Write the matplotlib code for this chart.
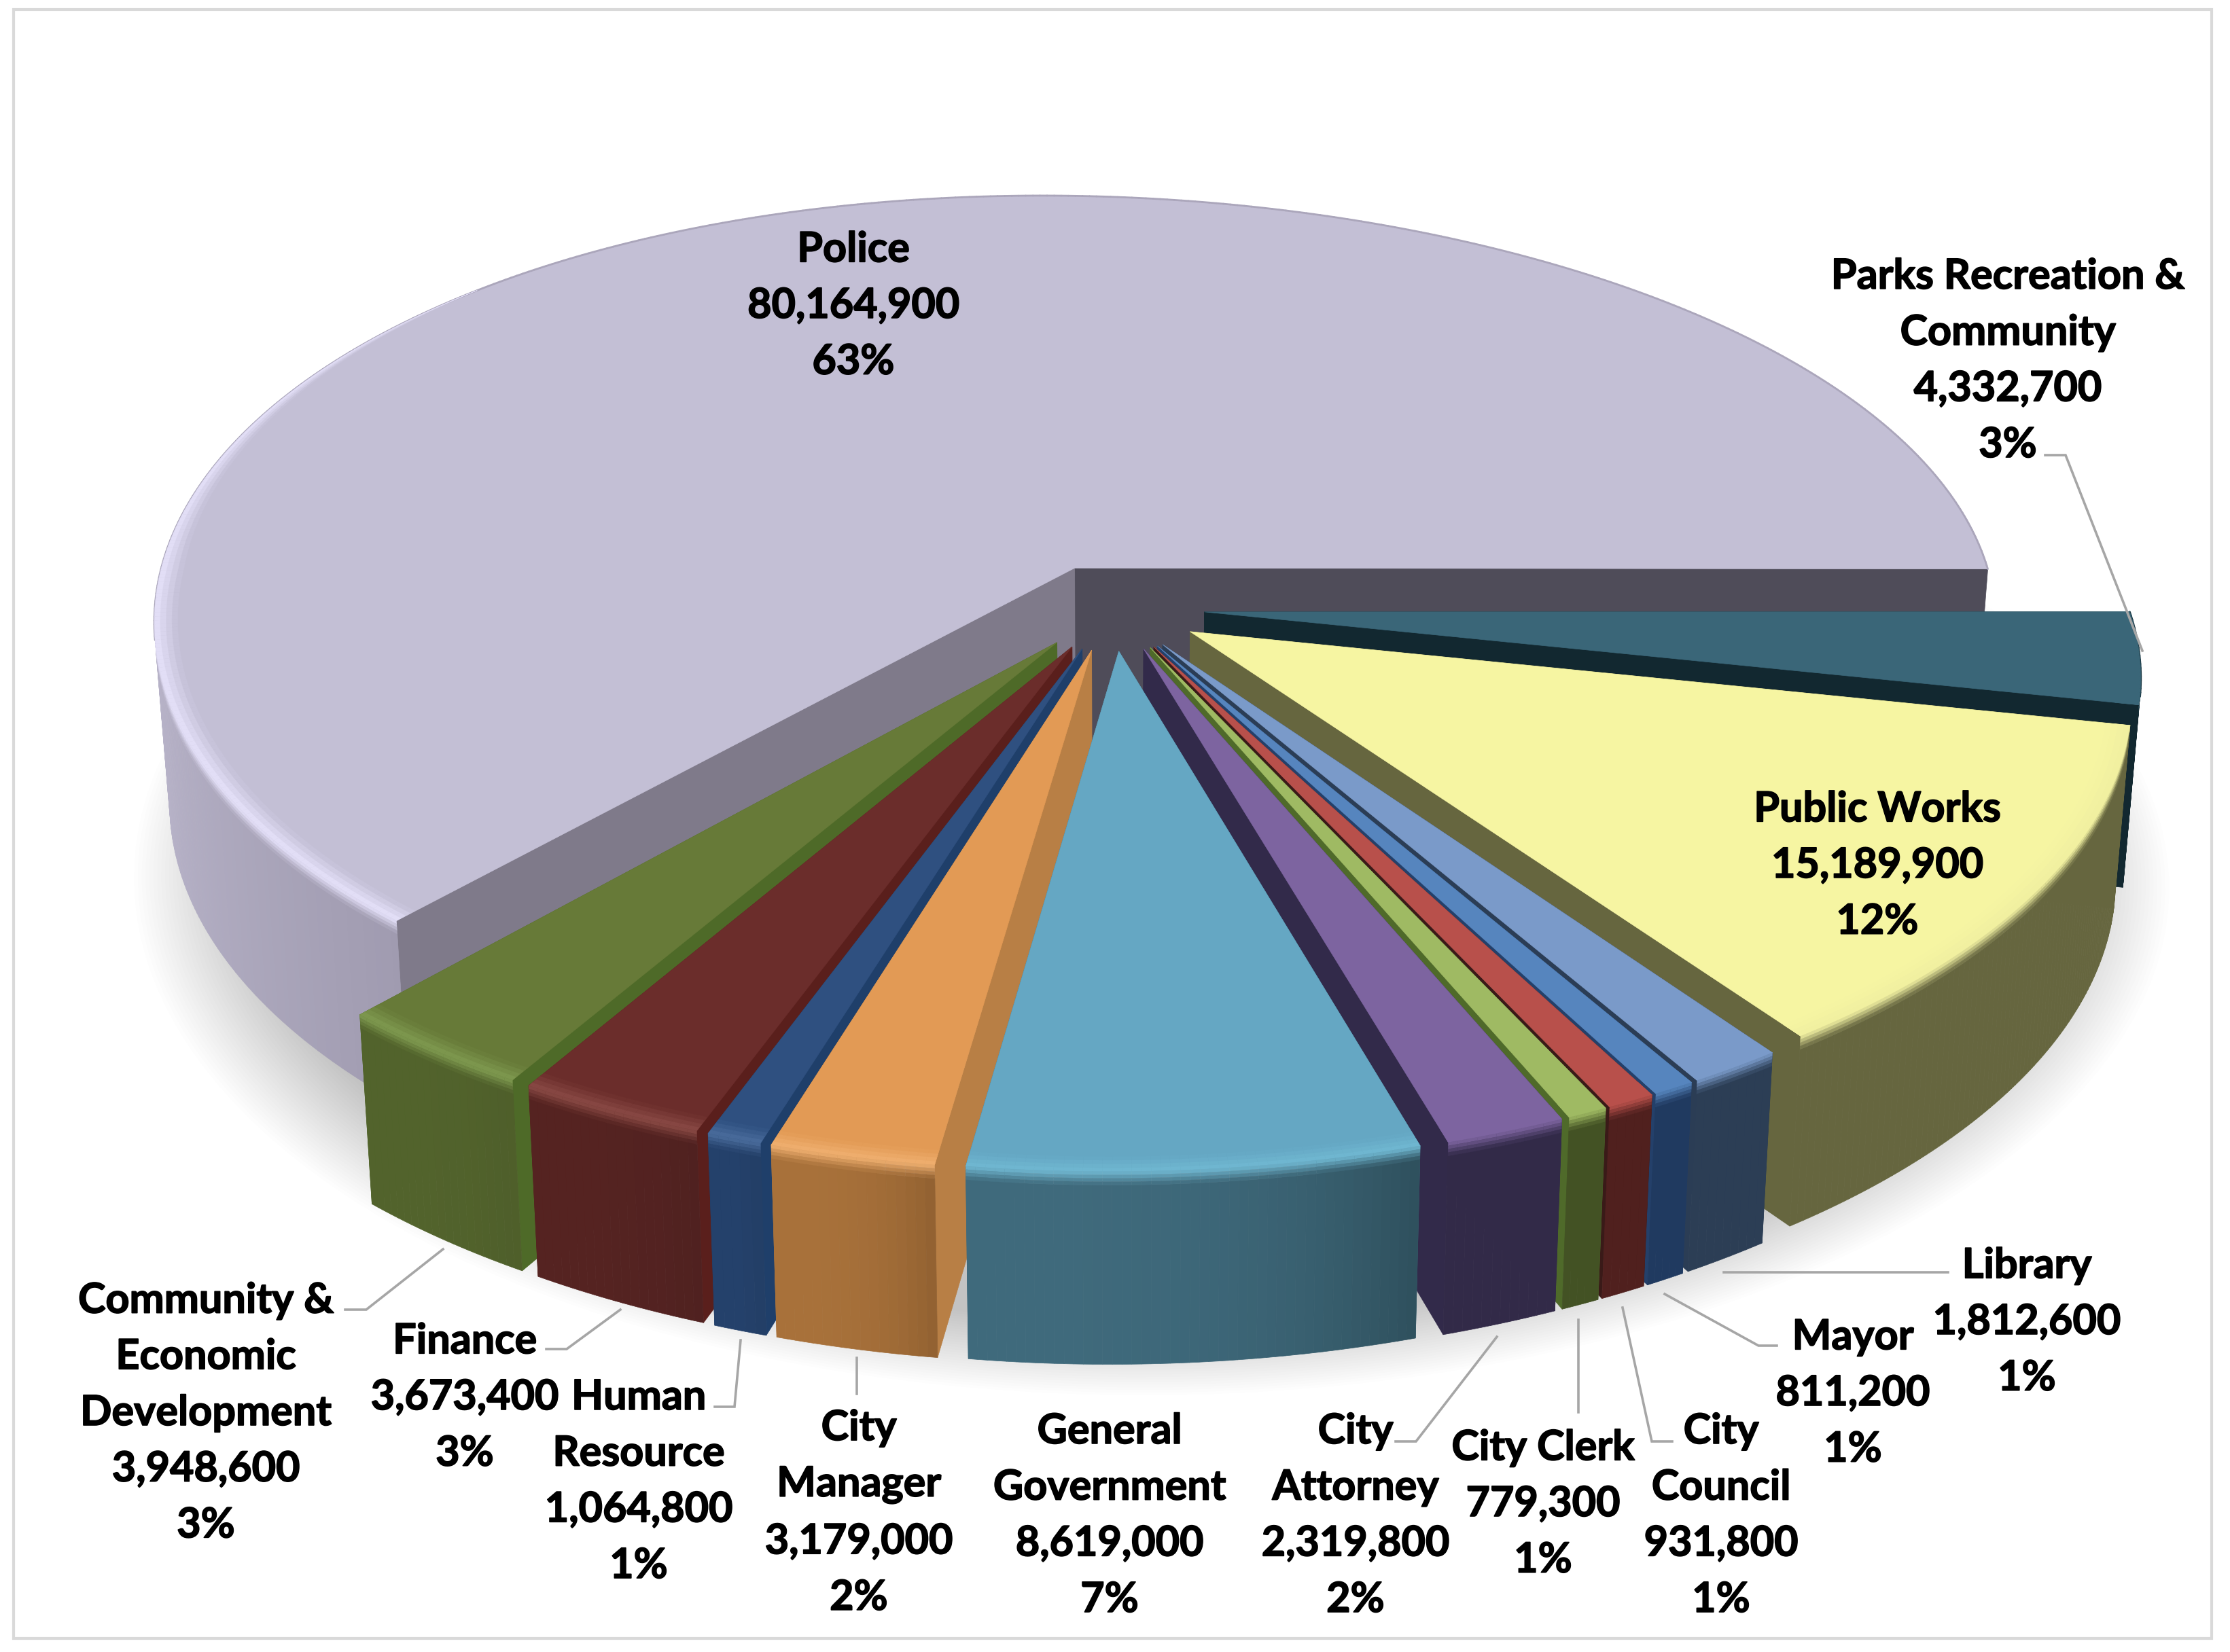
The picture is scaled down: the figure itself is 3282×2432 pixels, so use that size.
import numpy as np
import matplotlib
matplotlib.use("Agg")
import matplotlib.pyplot as plt
import matplotlib.patheffects as pe
from matplotlib.collections import PolyCollection
from matplotlib.colors import to_rgb
from matplotlib.patches import Polygon

# === DATA ===
names = ["Police", "Community &\nEconomic\nDevelopment", "Finance", "Human\nResource",
         "City\nManager", "General\nGovernment", "City\nAttorney", "City Clerk",
         "City\nCouncil", "Mayor", "Library", "Public Works", "Parks Recreation &\nCommunity"]
values = [80164900, 3948600, 3673400, 1064800, 3179000, 8619000, 2319800,
          779300, 931800, 811200, 1812600, 15189900, 4332700]
percents = [63, 3, 3, 1, 2, 7, 2, 1, 1, 1, 1, 12, 3]

# === COLOURS ===
top_colors = ["#C3BFD5", "#677A38", "#6B2D2B", "#2F5080", "#E29A55", "#65A7C3", "#7D64A0",
              "#9FBA63", "#B8504B", "#5685BE", "#7A9AC9", "#F6F5A2", "#3A6678"]
hi_colors = ["#E6E2FB", "#7F9A50", "#8A4A45", "#4A6C9C", "#F0B070", "#70B8D2", "#7D64A0",
             "#9FBA63", "#B8504B", "#5685BE", "#7A9AC9", "#F0EFA0", "#3A6678"]
side_start = ["#D8D4EA", "#52632C", "#552321", "#24416B", "#A8713A", "#3F6A7C", "#322A48",
              "#435224", "#50201E", "#203A60", "#2C3E55", "#66663F", "#122830"]
side_end = ["#A09BB0", "#4E5E2A", "#4F2120", "#233D64", "#8F5F30", "#2E4F5C", "#322A48",
            "#435224", "#50201E", "#203A60", "#2C3E55", "#66663F", "#122830"]
cut_start = ["#4F4C59", "#4E6A28", "#5A1F1C", "#1F3F6A", "#B87F45", "#3F6A7C", "#322A4A",
             "#4F6A2A", "#3A1A18", "#24406A", "#2B3D55", "#66663F", "#122830"]
cut_end = ["#7F7A8A", "#4E6A28", "#5A1F1C", "#1F3F6A", "#B87F45", "#3F6A7C", "#322A4A",
           "#4F6A2A", "#3A1A18", "#24406A", "#2B3D55", "#66663F", "#122830"]

# === LAYOUT ===
W, H = 3282, 2432
CX, CY = 1637, 894      # true pie centre in pixels
RX, RY = 1360, 639      # radii
K = 0.14                # perspective strength, depth
KX = 0.131              # perspective strength, width
SHEAR = 13              # front of the pie leans right a little
TWIST = 16              # front right sits a bit higher than front left
TAPER = 0.016
THICK = 265
EXPLODE = 0.1
BEVEL_R = 0.025
BEVEL_Z = 0.07
label_pos = [(1256, 450), (303, 2080), (684, 2057), (940, 2181), (1264, 2227), (1633, 2231),
             (1995, 2231), (2271, 2214), (2533, 2231), (2727, 2051), (2983, 1946),
             (2763, 1274), (2955, 531)]
leaders = [[(3010, 670), (3040, 670), (3153, 958)],
           [(2537, 1873), (2867, 1873)],
           [(2450, 1905), (2588, 1981), (2615, 1981)],
           [(2388, 1925), (2431, 2122), (2461, 2122)],
           [(2323, 1943), (2323, 2079)],
           [(2203, 1968), (2084, 2122), (2054, 2122)],
           [(1261, 1999), (1261, 2052)],
           [(1090, 1973), (1081, 2071), (1052, 2071)],
           [(913, 1928), (834, 1986), (804, 1986)],
           [(652, 1839), (539, 1928), (508, 1928)]]


def project(u, v, z=0.0):
    x = CX + RX * u / (1 + KX * v) * (1 - TAPER * z) - SHEAR * v / (1 + K * v)
    y = CY - RY * v / (1 + K * v) + THICK * z / (1 + 0.06 * v) + TWIST * u * v
    return x, y


def mix(c1, c2, t):
    a, b = np.array(to_rgb(c1)), np.array(to_rgb(c2))
    return tuple(a + (b - a) * t)


def front_facing(quad):
    xs, ys = zip(*quad)
    return sum(xs[n] * ys[(n + 1) % 4] - xs[(n + 1) % 4] * ys[n] for n in range(4)) > 0


fig = plt.figure(figsize=(W / 100, H / 100), dpi=100)
ax = fig.add_axes([0, 0, 1, 1])
ax.set_xlim(0, W)
ax.set_ylim(H, 0)
ax.axis("off")

# frame
ax.add_patch(plt.Rectangle((20, 14), 3235, 2398, fill=False, ec="#D9D9D9", lw=3))

# soft shadow under the pie
circle = np.radians(np.arange(0, 361, 2))
for r in np.linspace(1.10, 0.98, 30):
    sx, sy = project(0.04 + r * np.cos(circle), -0.05 + r * np.sin(circle), 1.0)
    ax.add_patch(Polygon(np.column_stack([sx, sy]), fc="#808080", ec="none", alpha=0.014, zorder=1))

# === SLICES ===
fractions = np.array(values) / sum(values)
edges = np.concatenate([[0], np.cumsum(fractions) * 360])
mids = (edges[:-1] + edges[1:]) / 2
order = np.argsort(-np.abs(mids - 270))

z = 2
for i in order:
    a0, a1 = edges[i], edges[i + 1]
    ox = EXPLODE * np.cos(np.radians(mids[i]))
    oy = EXPLODE * np.sin(np.radians(mids[i]))
    deg = np.linspace(a0, a1, max(int((a1 - a0) * 2), 6))
    rad = np.radians(deg)
    cu, cv = ox + np.cos(rad), oy + np.sin(rad)

    # cut faces
    for j, col in ((0, cut_start[i]), (-1, cut_end[i])):
        pts = [project(ox, oy), project(cu[j], cv[j]), project(cu[j], cv[j], 1), project(ox, oy, 1)]
        ax.add_patch(Polygon(pts, fc=col, ec=col, lw=0.5, zorder=z))
    z += 1

    # outer wall, only the part turned towards the viewer
    polys, cols, facing = [], [], []
    for n in range(len(rad) - 1):
        t = ((deg[n] - a0) / (a1 - a0)) ** 3
        quad = [project(cu[n], cv[n], BEVEL_Z), project(cu[n + 1], cv[n + 1], BEVEL_Z),
                project(cu[n + 1], cv[n + 1], 1), project(cu[n], cv[n], 1)]
        facing.append(front_facing(quad))
        if facing[-1]:
            polys.append(quad)
            cols.append(mix(side_start[i], side_end[i], t))
    ax.add_collection(PolyCollection(polys, facecolors=cols, edgecolors="face", linewidths=0.5, zorder=z))
    z += 1

    # top face
    tx, ty = project(np.r_[ox, cu], np.r_[oy, cv])
    ax.add_patch(Polygon(np.column_stack([tx, ty]), fc=top_colors[i], ec=top_colors[i], lw=0.5, zorder=z))
    z += 1

    # bevel along the rim: top colour -> highlight -> wall colour
    polys, cols = [], []
    steps = np.linspace(0, 1, 9)
    for n in range(len(rad) - 1):
        if not facing[n]:
            ex, ey = project(cu[n:n + 2], cv[n:n + 2])
            ax.plot(ex, ey, color=mix(top_colors[i], side_end[i], 0.7), lw=2, zorder=z, solid_capstyle="round")
            # the highlight runs on a little past the left edge and thins out
            fade = np.clip((deg[n] - 135) / 45, 0, 1)
            if fade > 0:
                for s0, s1 in zip(steps[:4], steps[1:5]):
                    r0, r1 = 1 - BEVEL_R * fade * (1 - s0 * 2), 1 - BEVEL_R * fade * (1 - s1 * 2)
                    polys.append([project(ox + r0 * np.cos(rad[n]), oy + r0 * np.sin(rad[n])),
                                  project(ox + r0 * np.cos(rad[n + 1]), oy + r0 * np.sin(rad[n + 1])),
                                  project(ox + r1 * np.cos(rad[n + 1]), oy + r1 * np.sin(rad[n + 1])),
                                  project(ox + r1 * np.cos(rad[n]), oy + r1 * np.sin(rad[n]))])
                    cols.append(mix(top_colors[i], hi_colors[i], (s0 + s1)))
            continue
        wall = mix(side_start[i], side_end[i], ((deg[n] - a0) / (a1 - a0)) ** 3)
        for s0, s1 in zip(steps[:-1], steps[1:]):
            quad = []
            for s, k in ((s0, n), (s0, n + 1), (s1, n + 1), (s1, n)):
                if s < 0.5:
                    r = 1 - BEVEL_R * (1 - s * 2)
                    quad.append(project(ox + r * np.cos(rad[k]), oy + r * np.sin(rad[k])))
                else:
                    quad.append(project(cu[k], cv[k], BEVEL_Z * (s - 0.5) * 2))
            sm = (s0 + s1) / 2
            if sm < 0.5:
                cols.append(mix(top_colors[i], hi_colors[i], sm * 2))
            else:
                cols.append(mix(hi_colors[i], wall, (sm - 0.5) * 2))
            polys.append(quad)
    ax.add_collection(PolyCollection(polys, facecolors=cols, edgecolors="face", linewidths=0.3, zorder=z))
    z += 1

# === LABELS ===
for line in leaders:
    xs, ys = zip(*line)
    ax.plot(xs, ys, color="#A6A6A6", lw=2.6, zorder=z, solid_joinstyle="miter")
z += 1
for i, name in enumerate(names):
    ax.text(label_pos[i][0], label_pos[i][1], f"{name}\n{values[i]:,}\n{percents[i]}%",
            ha="center", va="center", multialignment="center", family="Lato", weight="bold",
            fontsize=44, linespacing=1.58, color="black", zorder=z,
            path_effects=[pe.withStroke(linewidth=1.2, foreground="black")])

fig.savefig("out.png", dpi=100, facecolor="white")
